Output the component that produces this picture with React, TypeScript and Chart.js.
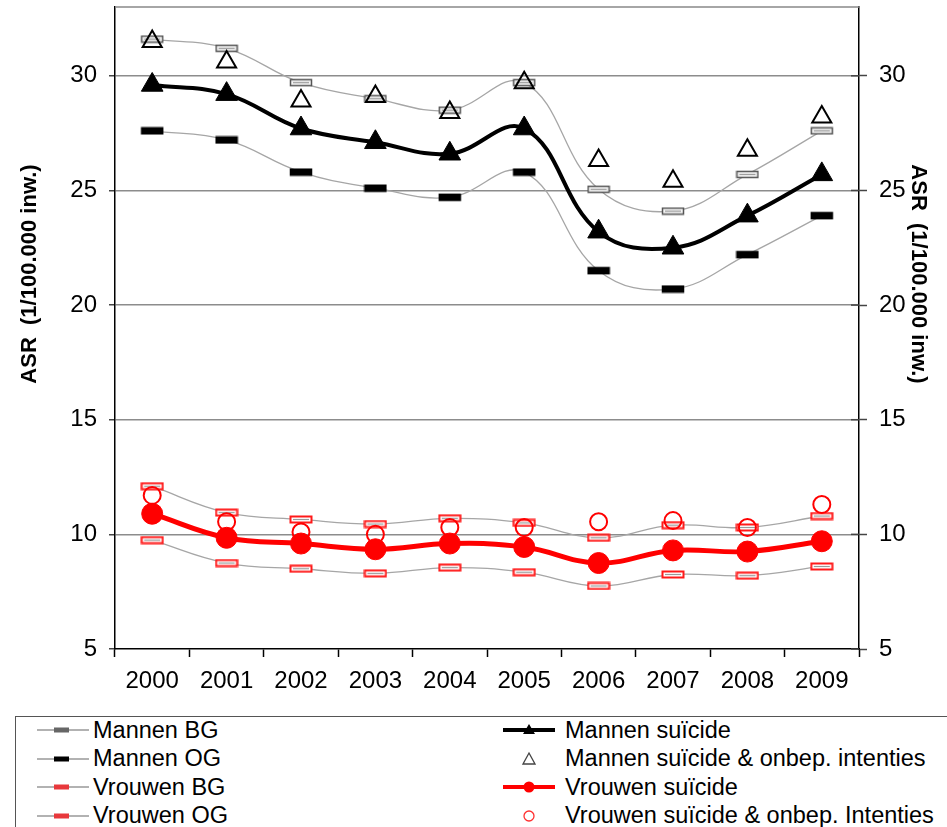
import React, { useEffect, useRef } from "react";
import { Chart, registerables } from "chart.js";

Chart.register(...registerables);

const years = ["2000", "2001", "2002", "2003", "2004", "2005", "2006", "2007", "2008", "2009"];
const mannenBG = [31.6, 31.2, 29.7, 29.0, 28.5, 29.7, 25.05, 24.1, 25.7, 27.6];
const mannenOG = [27.6, 27.2, 25.8, 25.1, 24.7, 25.8, 21.5, 20.7, 22.2, 23.9];
const mannenSuicide = [29.6, 29.2, 27.7, 27.1, 26.6, 27.7, 23.2, 22.5, 23.9, 25.7];
const mannenOnbep = [31.5, 30.6, 28.9, 29.1, 28.4, 29.7, 26.3, 25.4, 26.75, 28.2];
const vrouwenBG = [12.1, 10.95, 10.65, 10.45, 10.7, 10.5, 9.85, 10.4, 10.3, 10.8];
const vrouwenOG = [9.75, 8.75, 8.5, 8.3, 8.55, 8.35, 7.75, 8.25, 8.2, 8.6];
const vrouwenSuicide = [10.9, 9.85, 9.6, 9.35, 9.6, 9.45, 8.75, 9.3, 9.25, 9.7];
const vrouwenOnbep = [11.7, 10.55, 10.1, 10.0, 10.3, 10.3, 10.55, 10.6, 10.3, 11.3];
const yTicks = [5, 10, 15, 20, 25, 30];
const axisTitle = "ASR  (1/100.000 inw.)";

const FONT = "'Liberation Sans', Arial, sans-serif";

function dashMarker(fill: string, stroke: string, strokeW: number, centerLine: string | null) {
  const c = document.createElement("canvas");
  c.width = 24;
  c.height = 9;
  const g = c.getContext("2d")!;
  g.fillStyle = fill;
  g.fillRect(1.5, 1.5, 21, 6);
  g.strokeStyle = stroke;
  g.lineWidth = strokeW;
  g.strokeRect(1.5, 1.5, 21, 6);
  if (centerLine) {
    g.strokeStyle = centerLine;
    g.lineWidth = 1.2;
    g.beginPath();
    g.moveTo(4, 4.5);
    g.lineTo(20, 4.5);
    g.stroke();
  }
  return c;
}

const decorPlugin = {
  id: "decor",
  beforeDatasetsDraw(chart: any) {
    const { ctx, chartArea } = chart;
    ctx.save();
    ctx.strokeStyle = "#888";
    ctx.lineWidth = 1.5;
    ctx.beginPath();
    ctx.moveTo(chartArea.left, chartArea.top);
    ctx.lineTo(chartArea.right, chartArea.top);
    ctx.stroke();
    // right axis tick marks crossing into the plot
    const y2 = chart.scales.y2;
    ctx.strokeStyle = "#444";
    ctx.lineWidth = 1.5;
    for (const v of yTicks) {
      const py = y2.getPixelForValue(v);
      ctx.beginPath();
      ctx.moveTo(chartArea.right - 8, py);
      ctx.lineTo(chartArea.right, py);
      ctx.stroke();
    }
    ctx.restore();
  },
  afterDraw(chart: any) {
    const { ctx } = chart;
    ctx.save();
    ctx.fillStyle = "#000";
    ctx.font = `bold 22px ${FONT}`;
    ctx.textAlign = "center";
    ctx.textBaseline = "middle";
    ctx.translate(30, 274);
    ctx.rotate(-Math.PI / 2);
    ctx.fillText(axisTitle, 0, 0);
    ctx.restore();
    ctx.save();
    ctx.fillStyle = "#000";
    ctx.font = `bold 22px ${FONT}`;
    ctx.textAlign = "center";
    ctx.textBaseline = "middle";
    ctx.translate(918, 274);
    ctx.rotate(Math.PI / 2);
    ctx.fillText(axisTitle, 0, 0);
    ctx.restore();
  },
};

function LegendSymbol({ kind }: { kind: string }) {
  const w = 52;
  const h = 20;
  const cy = 10;
  const line = (color: string, width: number) => (
    <line x1={0} y1={cy} x2={w} y2={cy} stroke={color} strokeWidth={width} />
  );
  let content: any = null;
  if (kind === "mBG")
    content = (
      <>
        {line("#999", 1.5)}
        <rect x={17} y={cy - 2.5} width={15} height={5} fill="#666" />
      </>
    );
  else if (kind === "mOG")
    content = (
      <>
        {line("#999", 1.5)}
        <rect x={17} y={cy - 2.5} width={15} height={5} fill="#000" />
      </>
    );
  else if (kind === "vBG" || kind === "vOG")
    content = (
      <>
        {line("#999", 1.5)}
        <rect x={17} y={cy - 2.5} width={15} height={5} fill="#e8383c" />
      </>
    );
  else if (kind === "mS")
    content = (
      <>
        {line("#000", 4)}
        <polygon points={`${w / 2},${cy - 6} ${w / 2 + 6},${cy + 4} ${w / 2 - 6},${cy + 4}`} fill="#000" />
      </>
    );
  else if (kind === "mO")
    content = (
      <polygon
        points={`${w / 2},${cy - 6} ${w / 2 + 6},${cy + 5} ${w / 2 - 6},${cy + 5}`}
        fill="none"
        stroke="#444"
        strokeWidth={1.3}
      />
    );
  else if (kind === "vS")
    content = (
      <>
        {line("#ff0000", 4)}
        <circle cx={w / 2} cy={cy} r={5.5} fill="#ff0000" />
      </>
    );
  else if (kind === "vO")
    content = <circle cx={w / 2} cy={cy} r={5} fill="none" stroke="#ff3030" strokeWidth={1.3} />;
  return (
    <svg width={w} height={h} style={{ display: "block", flex: "none" }}>
      {content}
    </svg>
  );
}

const legendLeft = [
  { kind: "mBG", label: "Mannen BG" },
  { kind: "mOG", label: "Mannen OG" },
  { kind: "vBG", label: "Vrouwen BG" },
  { kind: "vOG", label: "Vrouwen OG" },
];
const legendRight = [
  { kind: "mS", label: "Mannen suïcide" },
  { kind: "mO", label: "Mannen suïcide & onbep. intenties" },
  { kind: "vS", label: "Vrouwen suïcide" },
  { kind: "vO", label: "Vrouwen suïcide & onbep. Intenties" },
];

export default function App() {
  const canvasRef = useRef<HTMLCanvasElement | null>(null);

  useEffect(() => {
    const canvas = canvasRef.current;
    if (!canvas) return;
    const mBGMarker = dashMarker("#f4f4f4", "#555", 1.5, "#999");
    const mOGMarker = dashMarker("#000", "#000", 1.5, null);
    const vMarker = dashMarker("#ffffff", "#ff1a1a", 2, "#999");

    const thin = {
      borderColor: "#a6a6a6",
      borderWidth: 1.3,
      tension: 0.4,
      pointRadius: 11,
      pointHoverRadius: 11,
      fill: false,
    };

    const noPad = (s: any) => {
      s.paddingTop = 0;
      s.paddingBottom = 0;
    };

    const chart = new Chart(canvas, {
      type: "line",
      data: {
        labels: years,
        datasets: [
          { ...thin, label: "Mannen BG", data: mannenBG, pointStyle: mBGMarker as any, order: 8 },
          { ...thin, label: "Mannen OG", data: mannenOG, pointStyle: mOGMarker as any, order: 7 },
          { ...thin, label: "Vrouwen BG", data: vrouwenBG, pointStyle: vMarker as any, order: 6 },
          { ...thin, label: "Vrouwen OG", data: vrouwenOG, pointStyle: vMarker as any, order: 5 },
          {
            label: "Mannen suïcide",
            data: mannenSuicide,
            borderColor: "#000",
            borderWidth: 4,
            tension: 0.4,
            pointStyle: "triangle",
            pointRadius: 12.5,
            pointHoverRadius: 12.5,
            pointBackgroundColor: "#000",
            pointBorderColor: "#000",
            pointBorderWidth: 1,
            order: 4,
          },
          {
            label: "Mannen suïcide & onbep. intenties",
            data: mannenOnbep,
            showLine: false,
            pointStyle: "triangle",
            pointRadius: 11,
            pointHoverRadius: 11,
            pointBackgroundColor: "rgba(0,0,0,0)",
            pointBorderColor: "#000",
            pointBorderWidth: 2,
            borderColor: "#000",
            order: 3,
          },
          {
            label: "Vrouwen suïcide",
            data: vrouwenSuicide,
            borderColor: "#ff0000",
            borderWidth: 5,
            tension: 0.4,
            pointStyle: "circle",
            pointRadius: 10.5,
            pointHoverRadius: 10.5,
            pointBackgroundColor: "#ff0000",
            pointBorderColor: "#ff0000",
            pointBorderWidth: 1,
            order: 2,
          },
          {
            label: "Vrouwen suïcide & onbep. Intenties",
            data: vrouwenOnbep,
            showLine: false,
            pointStyle: "circle",
            pointRadius: 8.5,
            pointHoverRadius: 8.5,
            pointBackgroundColor: "rgba(0,0,0,0)",
            pointBorderColor: "#ff0000",
            pointBorderWidth: 2,
            borderColor: "#ff0000",
            order: 1,
          },
        ],
      },
      options: {
        responsive: false,
        maintainAspectRatio: false,
        animation: false,
        events: [],
        layout: { autoPadding: false, padding: { top: 7, left: 0, right: 0, bottom: 0 } },
        plugins: {
          legend: { display: false },
          tooltip: { enabled: false },
        },
        scales: {
          x: {
            type: "category",
            offset: true,
            grid: {
              offset: true,
              drawOnChartArea: false,
              drawTicks: true,
              tickLength: 8,
              tickColor: "#000",
              tickWidth: 1.5,
            },
            border: { display: true, color: "#000", width: 1.5 },
            ticks: {
              color: "#000",
              font: { family: FONT, size: 24 },
              padding: 10,
              maxRotation: 0,
              autoSkip: false,
            },
            afterFit: (s: any) => {
              s.height = 61;
              s.paddingLeft = 0;
              s.paddingRight = 0;
            },
          },
          y: {
            type: "linear",
            position: "left",
            min: 5,
            max: 33,
            afterBuildTicks: (s: any) => {
              s.ticks = yTicks.map((v) => ({ value: v }));
            },
            grid: {
              color: (ctx: any) => (ctx.tick && ctx.tick.value === 5 ? "rgba(0,0,0,0)" : "#8c8c8c"),
              lineWidth: 1.5,
              drawTicks: true,
              tickLength: 6,
              tickColor: "#444",
              tickWidth: 1.5,
            },
            border: { display: true, color: "#000", width: 1.5 },
            ticks: {
              color: "#000",
              font: { family: FONT, size: 24 },
              padding: 12,
            },
            afterFit: (s: any) => {
              s.width = 115;
              noPad(s);
            },
          },
          y2: {
            type: "linear",
            position: "right",
            min: 5,
            max: 33,
            afterBuildTicks: (s: any) => {
              s.ticks = yTicks.map((v) => ({ value: v }));
            },
            grid: {
              drawOnChartArea: false,
              drawTicks: true,
              tickLength: 8,
              tickColor: "#444",
              tickWidth: 1.5,
            },
            border: { display: true, color: "#000", width: 1.5 },
            ticks: {
              color: "#000",
              font: { family: FONT, size: 24 },
              padding: 12,
            },
            afterFit: (s: any) => {
              s.width = 88;
              noPad(s);
            },
          },
        },
      },
      plugins: [decorPlugin],
    } as any);

    return () => chart.destroy();
  }, []);

  const rowTops = [-1, 27.5, 56, 84.5];

  return (
    <div
      style={{
        position: "absolute",
        left: 0,
        top: 0,
        width: 947,
        height: 827,
        overflow: "hidden",
        background: "#fff",
        fontFamily: FONT,
      }}
    >
      <canvas ref={canvasRef} width={947} height={710} style={{ position: "absolute", left: 0, top: 0, width: 947, height: 710 }} />
      <div
        style={{
          position: "absolute",
          left: 15,
          top: 716,
          width: 945,
          height: 130,
          border: "1.5px solid #555",
          boxSizing: "border-box",
        }}
      >
        {legendLeft.map((it, i) => (
          <div
            key={it.kind}
            style={{ position: "absolute", left: 21, top: rowTops[i], height: 28, display: "flex", alignItems: "center" }}
          >
            <LegendSymbol kind={it.kind} />
            <span style={{ fontSize: 23.5, color: "#000", marginLeft: 4, whiteSpace: "nowrap" }}>{it.label}</span>
          </div>
        ))}
        {legendRight.map((it, i) => (
          <div
            key={it.kind}
            style={{ position: "absolute", left: 487, top: rowTops[i], height: 28, display: "flex", alignItems: "center" }}
          >
            <LegendSymbol kind={it.kind} />
            <span style={{ fontSize: 23.5, color: "#000", marginLeft: 10, whiteSpace: "nowrap" }}>{it.label}</span>
          </div>
        ))}
      </div>
    </div>
  );
}
